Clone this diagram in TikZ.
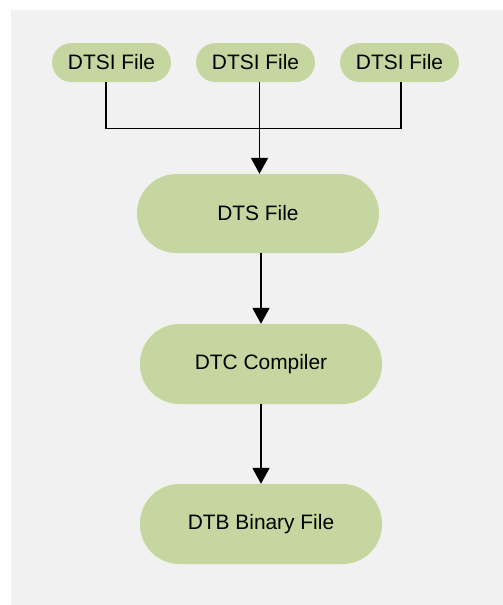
\documentclass[tikz,border=0pt]{standalone}
\usepackage{fontspec}
\setmainfont{Liberation Sans}
\usetikzlibrary{arrows.meta}
\definecolor{bggray}{HTML}{F1F1F1}
\definecolor{pill}{HTML}{C5D6A0}
\begin{document}
\begin{tikzpicture}[x=1pt,y=-1pt,
  small/.style={draw=none,fill=pill,rounded corners=19.5pt,minimum width=119pt,minimum height=39pt,inner sep=0pt,font=\fontsize{20.9}{25}\selectfont},
  big/.style={draw=none,fill=pill,rounded corners=39.5pt,minimum width=242pt,minimum height=79pt,inner sep=0pt,font=\fontsize{20.9}{25}\selectfont},
  conn/.style={line width=1.8pt,black},
  arr/.style={conn,-{Triangle[length=16pt,width=17pt]}}]
\useasboundingbox (0,0) rectangle (503,605);
\fill[bggray] (11,10) rectangle (503,605);
\node[small] (d1) at (111.5,62.5) {DTSI File};
\node[small] (d2) at (255.5,62.5) {DTSI File};
\node[small] (d3) at (399.5,62.5) {DTSI File};
\node[big] (dts) at (258,213.5) {DTS File};
\node[big,minimum height=80pt] (dtc) at (261,364) {DTC Compiler};
\node[big,minimum height=80pt] (dtb) at (261,524) {DTB Binary File};
\coordinate (j) at (259.5,128.5);
\draw[conn] ([xshift=-5.5pt]d1.south) |- (j) -| ([xshift=1.5pt]d3.south);
\draw[conn] (d2.south -| j) -- (j);
\draw[arr] (j) -- (dts.north -| j);
\draw[arr] (dts.south -| dtc.north) -- (dtc.north);
\draw[arr] (dtc.south) -- (dtb.north);
\end{tikzpicture}
\end{document}
